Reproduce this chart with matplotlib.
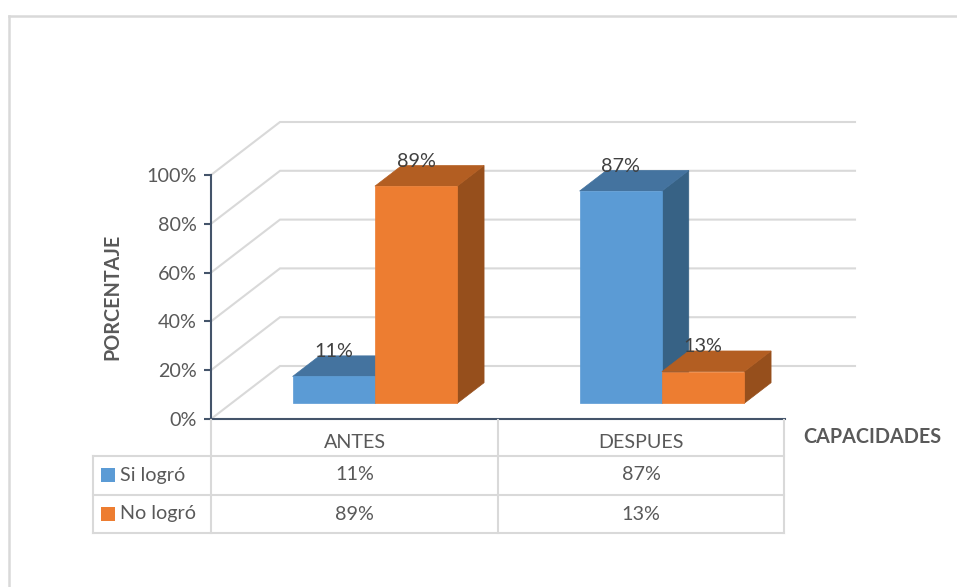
import matplotlib
matplotlib.use("Agg")
import matplotlib.pyplot as plt
from matplotlib.patches import Polygon, Rectangle
from matplotlib.lines import Line2D
from matplotlib.transforms import Affine2D

categories = ["ANTES", "DESPUES"]
series_names = ["Si logró", "No logró"]
si_logro = [11, 87]
no_logro = [89, 13]
y_ticks = [0, 20, 40, 60, 80, 100]

plt.rcParams["font.family"] = ["Lato", "DejaVu Sans"]
W, H = 957, 587
TXT = "#595959"
GRID = "#d9d9d9"
AXC = "#44546a"
FS = 14.2

fig = plt.figure(figsize=(W / 100, H / 100), dpi=100, facecolor="white")
ax = fig.add_axes([211 / W, (H - 419) / H, 574 / W, 244 / H])
ax.set_xlim(0, 2)
ax.set_ylim(0, 100)
ax.patch.set_visible(False)
for s in ["top", "right"]:
    ax.spines[s].set_visible(False)
for s in ["left", "bottom"]:
    ax.spines[s].set_color(AXC)
    ax.spines[s].set_linewidth(1.5)
ax.set_yticks(y_ticks)
ax.set_yticklabels([f"{v}%" for v in y_ticks], fontsize=FS, color=TXT)
ax.set_xticks([])
ax.tick_params(axis="y", length=5, width=1.5, color=AXC, pad=5)
ax.spines["left"].set_zorder(6)
ax.spines["bottom"].set_zorder(6)

# pixel-space helper for layout elements
px = Affine2D().scale(1 / W, -1 / H).translate(0, 1) + fig.transFigure

# depth projection of the 3D box, in data units
DX = 69 / 287
DY = 53 / (244 / 100)
D0, D1 = 0.296, 0.685
WIDTH = 82.3 / 287
GRID_END = (855 - 211) / 287


def proj(x, v, d):
    return (x + d * DX, v + d * DY)


# walls
for v in y_ticks:
    xs = [0, DX, GRID_END]
    ys = [v, v + DY, v + DY]
    ax.plot(xs, ys, color=GRID, lw=1.5, clip_on=False, zorder=1, solid_joinstyle="miter")

COLORS = [("#5b9bd5", "#44739f", "#376285"), ("#ed7d31", "#b35e22", "#964f1c")]


def bar3d(x, v, cols, z):
    front, top, side = cols
    xl, xr = x, x + WIDTH
    a = [proj(xl, 0, D0), proj(xr, 0, D0), proj(xr, v, D0), proj(xl, v, D0)]
    b = [proj(xl, v, D0), proj(xr, v, D0), proj(xr, v, D1), proj(xl, v, D1)]
    c = [proj(xr, 0, D0), proj(xr, 0, D1), proj(xr, v, D1), proj(xr, v, D0)]
    for pts, col in ((c, side), (b, top), (a, front)):
        ax.add_patch(Polygon(pts, closed=True, facecolor=col, edgecolor=col, lw=0.5,
                             clip_on=False, zorder=z))


for i, vals in enumerate(zip(si_logro, no_logro)):
    for j, v in enumerate(vals):
        x = i + 0.5 - WIDTH + j * WIDTH
        bar3d(x, v, COLORS[j], 3 + j * 0.1 + i * 0.01)
        fx, fy = proj(x + WIDTH / 2, v, D0)
        ax.annotate(f"{v}%", (fx, fy), xytext=(0, 25 * 0.72), textcoords="offset points",
                    ha="center", va="center", fontsize=FS, color="#404040", zorder=5,
                    annotation_clip=False)


# data table
def line(x0, y0, x1, y1, lw=1.5, color=GRID):
    fig.add_artist(Line2D([x0, x1], [y0, y1], transform=px, color=color, lw=lw, zorder=2))


for y in (456, 494.5, 532.5):
    line(93, y, 784, y)
line(93, 456, 93, 532.5)
for x in (211, 497.5, 784):
    line(x, 420, x, 532.5)


def label(x, y, s, **kw):
    opts = dict(transform=px, fontsize=FS, color=TXT, ha="center", va="center")
    opts.update(kw)
    fig.text(x, y, s, **opts)


rows = [si_logro, no_logro]
centers = [354.5, 641]
row_y = [475, 514]
for i, cat in enumerate(categories):
    label(centers[i], 443, cat)
    for r, vals in enumerate(rows):
        label(centers[i], row_y[r], f"{vals[i]}%")
for r, name in enumerate(series_names):
    label(120, row_y[r], name, ha="left")
    fig.add_artist(Rectangle((101, row_y[r] - 7), 14, 14, transform=px,
                             facecolor=COLORS[r][0], edgecolor="none"))

label(112, 297, "PORCENTAJE", rotation=90, fontweight="bold")
label(803, 437, "CAPACIDADES", ha="left", fontweight="bold")

# outer chart frame
line(9, 16, 957, 16, lw=1.8)
line(9, 16, 9, 587, lw=1.8)

fig.savefig("out.png", dpi=100, facecolor="white")
